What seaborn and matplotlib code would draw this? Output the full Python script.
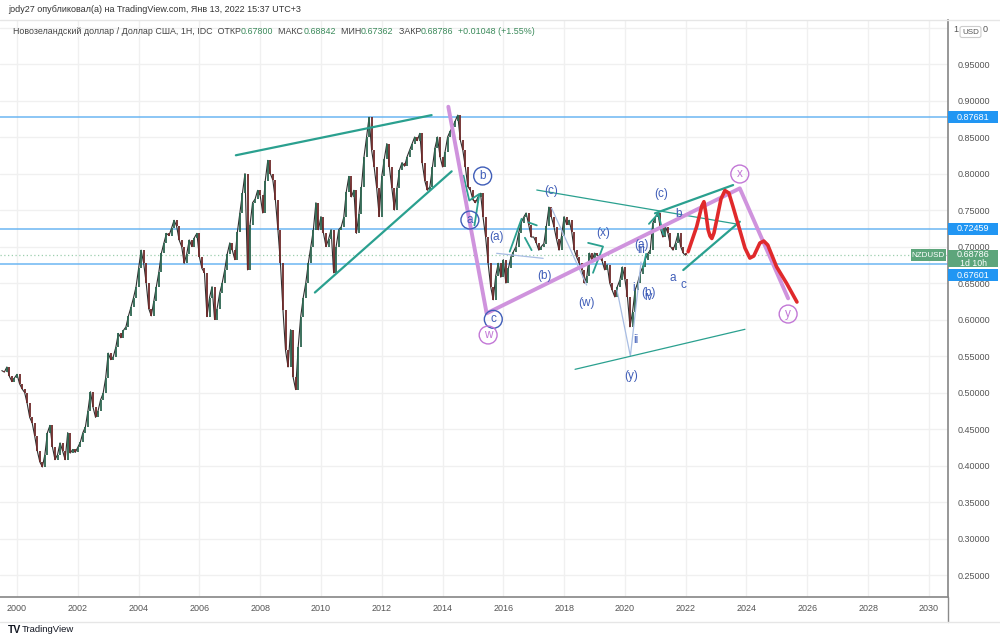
import numpy as np
import pandas as pd
import matplotlib
matplotlib.use("Agg")
import matplotlib.pyplot as plt
import seaborn as sns
from matplotlib.patches import Rectangle
from matplotlib.transforms import blended_transform_factory, ScaledTranslation

# ----------------------------
# Monthly closes NZDUSD, Jul 1999 .. Jan 2022
# ----------------------------
close_1999 = [0.530, 0.528, 0.535, 0.522, 0.515, 0.520]
close_2000 = [0.525, 0.512, 0.505, 0.500, 0.485, 0.466, 0.458, 0.440, 0.420, 0.405, 0.398, 0.415]
close_2001 = [0.445, 0.455, 0.425, 0.408, 0.415, 0.431, 0.420, 0.408, 0.445, 0.417, 0.422, 0.418]
close_2002 = [0.425, 0.432, 0.445, 0.453, 0.475, 0.501, 0.480, 0.466, 0.475, 0.490, 0.499, 0.520]
close_2003 = [0.554, 0.545, 0.549, 0.562, 0.581, 0.575, 0.585, 0.590, 0.605, 0.617, 0.630, 0.645]
close_2004 = [0.670, 0.695, 0.677, 0.650, 0.615, 0.605, 0.625, 0.645, 0.665, 0.691, 0.705, 0.718]
close_2005 = [0.715, 0.725, 0.736, 0.728, 0.709, 0.700, 0.677, 0.690, 0.709, 0.700, 0.712, 0.718]
close_2006 = [0.686, 0.670, 0.664, 0.604, 0.630, 0.645, 0.600, 0.615, 0.636, 0.650, 0.668, 0.690]
close_2007 = [0.705, 0.695, 0.682, 0.720, 0.746, 0.773, 0.800, 0.668, 0.730, 0.760, 0.765, 0.777]
close_2008 = [0.770, 0.746, 0.790, 0.818, 0.800, 0.791, 0.764, 0.723, 0.677, 0.613, 0.558, 0.535]
close_2009 = [0.586, 0.521, 0.504, 0.562, 0.604, 0.630, 0.650, 0.677, 0.700, 0.723, 0.760, 0.723]
close_2010 = [0.741, 0.718, 0.700, 0.710, 0.723, 0.664, 0.700, 0.723, 0.727, 0.740, 0.775, 0.796]
close_2011 = [0.768, 0.777, 0.718, 0.745, 0.782, 0.823, 0.850, 0.877, 0.832, 0.809, 0.780, 0.741]
close_2012 = [0.796, 0.820, 0.841, 0.809, 0.780, 0.750, 0.780, 0.805, 0.815, 0.810, 0.823, 0.832]
close_2013 = [0.841, 0.850, 0.845, 0.855, 0.814, 0.790, 0.777, 0.782, 0.809, 0.835, 0.850, 0.823]
close_2014 = [0.809, 0.830, 0.850, 0.858, 0.864, 0.872, 0.880, 0.846, 0.832, 0.809, 0.782, 0.777]
close_2015 = [0.764, 0.760, 0.768, 0.773, 0.740, 0.713, 0.677, 0.645, 0.627, 0.660, 0.677, 0.658]
close_2016 = [0.682, 0.650, 0.670, 0.686, 0.693, 0.700, 0.718, 0.732, 0.740, 0.746, 0.730, 0.713]
close_2017 = [0.713, 0.705, 0.695, 0.700, 0.704, 0.728, 0.754, 0.740, 0.727, 0.710, 0.695, 0.715]
close_2018 = [0.741, 0.730, 0.736, 0.720, 0.695, 0.685, 0.677, 0.668, 0.650, 0.660, 0.691, 0.680]
close_2019 = [0.691, 0.688, 0.686, 0.680, 0.668, 0.675, 0.650, 0.640, 0.631, 0.645, 0.654, 0.672]
close_2020 = [0.655, 0.631, 0.590, 0.610, 0.640, 0.650, 0.663, 0.672, 0.682, 0.690, 0.695, 0.732]
close_2021 = [0.740, 0.746, 0.725, 0.713, 0.727, 0.718, 0.700, 0.695, 0.705, 0.718, 0.700, 0.691]
close_2022 = [0.688]

closes = (close_1999 + close_2000 + close_2001 + close_2002 + close_2003 + close_2004
          + close_2005 + close_2006 + close_2007 + close_2008 + close_2009 + close_2010
          + close_2011 + close_2012 + close_2013 + close_2014 + close_2015 + close_2016
          + close_2017 + close_2018 + close_2019 + close_2020 + close_2021 + close_2022)
dates = pd.date_range("1999-07-01", periods=len(closes), freq="MS")
df = pd.DataFrame({"t": dates.year + (dates.month - 1) / 12.0, "close": closes})

# ----------------------------
# Drawings (year, price)
# ----------------------------
levels = [0.87681, 0.72459, 0.67601]
last_price = 0.68786

teal_top = [(2007.20, 0.825), (2013.64, 0.880)]
teal_low = [(2009.80, 0.637), (2014.30, 0.803)]
teal_chan_up = [(2020.99, 0.7455), (2023.56, 0.7842)]
teal_chan_low = [(2021.92, 0.6678), (2023.78, 0.734)]
teal_thin_c = [(2017.10, 0.7774), (2023.68, 0.7308)]
teal_thin_bottom = [(2018.36, 0.5318), (2023.95, 0.5866)]
teal_zigzags = [
    [(2014.69, 0.797), (2014.88, 0.763), (2015.21, 0.772), (2015.05, 0.729)],
    [(2016.21, 0.693), (2016.60, 0.738)],
    [(2016.83, 0.733), (2017.10, 0.729)],
    [(2016.71, 0.712), (2016.93, 0.695)],
    [(2018.79, 0.705), (2019.28, 0.700), (2018.95, 0.664)],
    [(2020.79, 0.731), (2021.10, 0.745), (2021.27, 0.716)],
    [(2020.60, 0.671), (2020.70, 0.690)],
]
pale_lines = [
    [(2017.59, 0.7523), (2018.74, 0.6473)],
    [(2019.74, 0.6404), (2020.18, 0.5500), (2020.53, 0.6788)],
    [(2015.78, 0.6907), (2017.31, 0.6838)],
]
violet_path = [(2014.19, 0.8915), (2015.45, 0.6085), (2023.78, 0.7797), (2025.37, 0.629)]
red_path = [(2022.08, 0.6929), (2022.36, 0.7271), (2022.53, 0.7555), (2022.60, 0.7614),
            (2022.66, 0.7466), (2022.74, 0.7226), (2022.80, 0.7144), (2022.86, 0.7110),
            (2022.93, 0.7185), (2023.02, 0.7363), (2023.16, 0.7650), (2023.29, 0.7767),
            (2023.42, 0.7733), (2023.55, 0.7555), (2023.78, 0.7226), (2023.95, 0.6980),
            (2024.11, 0.6842), (2024.24, 0.6870), (2024.44, 0.7048), (2024.57, 0.7075),
            (2024.70, 0.7021), (2024.99, 0.6723), (2025.32, 0.6496), (2025.66, 0.6240)]

blue_labels = [("(a)", 2015.76, 0.713), ("(b)", 2017.37, 0.660), ("(c)", 2017.57, 0.776),
               ("(w)", 2018.75, 0.6226), ("(x)", 2019.28, 0.7185), ("(y)", 2020.20, 0.5226),
               ("(c)", 2021.18, 0.7719), ("b", 2021.78, 0.7445), ("a", 2021.58, 0.6568),
               ("c", 2021.94, 0.6473), ("i", 2020.30, 0.6432), ("ii", 2020.36, 0.572),
               ("(a)", 2020.55, 0.702), ("iii", 2020.55, 0.6952), ("(b)", 2020.77, 0.6367),
               ("iv", 2020.77, 0.6312)]
blue_circled = [("b", 2015.32, 0.7966), ("a", 2014.90, 0.7363), ("c", 2015.67, 0.6003)]
violet_circled = [("w", 2015.50, 0.5788), ("x", 2023.78, 0.7993), ("y", 2025.37, 0.6075)]

year_ticks = list(range(2000, 2031, 2))
price_ticks = [round(0.25 + 0.05 * i, 2) for i in range(15)]   # 0.25 .. 0.95
grid_prices = price_ticks + [1.0]

# ----------------------------
# Figure
# ----------------------------
sns.set_theme(style="white")
plt.rcParams["font.family"] = ["Liberation Sans", "DejaVu Sans"]

W, H = 1000, 643
fig = plt.figure(figsize=(10, 6.43), dpi=100)
ax = fig.add_axes([0, (H - 597) / H, 948 / W, (597 - 20) / H])
ax.set_xlim(1999.44, 2030.63)
ax.set_ylim(0.2199, 1.0103)

grid_c = "#f0f0f0"
for yr in year_ticks:
    ax.axvline(yr, color=grid_c, lw=1, zorder=0)
for p in grid_prices:
    ax.axhline(p, color=grid_c, lw=1, zorder=0)

# price: thin line + monthly bodies
sns.lineplot(data=df, x="t", y="close", ax=ax, color="#2e2e2e", lw=0.8, zorder=3)
prev = df["close"].shift(1).fillna(df["close"].iloc[0])
up = df["close"] >= prev
ax.vlines(df["t"][up], prev[up], df["close"][up], color="#2d6650", lw=1.3, zorder=3)
ax.vlines(df["t"][~up], prev[~up], df["close"][~up], color="#6e2a2a", lw=1.3, zorder=3)

# horizontal levels
for lv in levels:
    ax.axhline(lv, color="#6cb6f2", lw=1.1, zorder=2)
ax.axhline(last_price, color="#9ccfae", lw=0.9, ls=(0, (1, 2)), zorder=2)


def draw(path, **kw):
    xs, ys = zip(*path)
    ax.plot(xs, ys, solid_capstyle="round", **kw)


teal = "#2aa08f"
for path in (teal_top, teal_low, teal_chan_up, teal_chan_low):
    draw(path, color=teal, lw=1.6, zorder=5)
for path in (teal_thin_c, teal_thin_bottom):
    draw(path, color=teal, lw=0.9, zorder=5)
for path in teal_zigzags:
    draw(path, color=teal, lw=1.3, zorder=5)
for path in pale_lines:
    draw(path, color="#a8bde3", lw=0.9, zorder=4)
draw(violet_path, color="#cf93dd", lw=2.8, zorder=6)
draw(red_path, color="#e0292b", lw=2.6, zorder=7)

blue = "#3f5db8"
violet = "#c277d6"
for txt, x, y in blue_labels:
    ax.text(x, y, txt, color=blue, fontsize=8.5, ha="center", va="center", zorder=8)
for txt, x, y in blue_circled:
    ax.text(x, y, txt, color=blue, fontsize=8.5, ha="center", va="center", zorder=8,
            bbox=dict(boxstyle="circle,pad=0.25", fc="none", ec=blue, lw=1))
for txt, x, y in violet_circled:
    ax.text(x, y, txt, color=violet, fontsize=8.5, ha="center", va="center", zorder=8,
            bbox=dict(boxstyle="circle,pad=0.25", fc="none", ec=violet, lw=1))

# axes styling
for s in ("top", "left"):
    ax.spines[s].set_visible(False)
ax.spines["right"].set_color("#8a8a8a")
ax.spines["bottom"].set_color("#8a8a8a")
ax.yaxis.tick_right()
ax.set_yticks(price_ticks)
ax.set_yticklabels([f"{p:.5f}" for p in price_ticks])
ax.set_xticks(year_ticks)
ax.set_xticklabels([str(y) for y in year_ticks])
ax.tick_params(axis="y", length=0, pad=7, labelsize=6.5, labelcolor="#555555")
ax.tick_params(axis="x", length=0, pad=5, labelsize=6.5, labelcolor="#555555")
ax.set_xlabel("")
ax.set_ylabel("")

# right-axis price tags
tr = blended_transform_factory(ax.transAxes, ax.transData)
hh = 0.0082
tag_shift = [0, 0, -11]
for lv, sh in zip(levels, tag_shift):
    off = ScaledTranslation(0, sh / 100, fig.dpi_scale_trans)
    ax.add_patch(Rectangle((1.0, lv - hh), 50 / 948, 2 * hh, transform=tr + off,
                           fc="#2196f3", ec="none", clip_on=False, zorder=10))
    ax.text(1.0 + 25 / 948, lv, f"{lv:.5f}", transform=tr + off, color="white",
            fontsize=6.5, ha="center", va="center", clip_on=False, zorder=11)

green = "#5da57b"
ax.add_patch(Rectangle((1.0, last_price - 0.0165), 50 / 948, 0.0245, transform=tr,
                       fc=green, ec="none", clip_on=False, zorder=10))
ax.text(1.0 + 25 / 948, last_price + 0.0015, f"{last_price:.5f}", transform=tr,
        color="white", fontsize=6.5, ha="center", va="center", zorder=11, clip_on=False)
ax.text(1.0 + 25 / 948, last_price - 0.0115, "1d 10h", transform=tr,
        color="white", fontsize=6.3, ha="center", va="center", zorder=11, clip_on=False)
ax.add_patch(Rectangle((911 / 948, last_price - 0.0082), 35 / 948, 0.0164, transform=tr,
                       fc=green, ec="none", clip_on=False, zorder=10))
ax.text(928.5 / 948, last_price, "NZDUSD", transform=tr, color="white",
        fontsize=5.8, ha="center", va="center", zorder=11)

# top of price scale: "1 [USD] 0"
fig.text(956 / W, 1 - 30 / H, "1", fontsize=6.5, color="#555555", ha="center", va="center")
fig.text(985 / W, 1 - 30 / H, "0", fontsize=6.5, color="#555555", ha="center", va="center")
fig.text(970.5 / W, 1 - 32 / H, "USD", fontsize=5.8, color="#555555", ha="center", va="center",
         bbox=dict(boxstyle="round,pad=0.25", fc="white", ec="#cccccc", lw=0.8), zorder=12)

# frame lines of the time/price scales
fig.add_artist(plt.Line2D([948 / W, 948 / W], [1 - 597 / H, 1 - 622 / H], color="#8a8a8a", lw=1))
fig.add_artist(plt.Line2D([0, 1], [1 - 622 / H, 1 - 622 / H], color="#e6e6e6", lw=1))
fig.add_artist(plt.Line2D([0, 1], [1 - 20 / H, 1 - 20 / H], color="#e6e6e6", lw=1))

# header
fig.text(8 / W, 1 - 9 / H, "jody27 опубликовал(а) на TradingView.com, Янв 13, 2022 15:37 UTC+3",
         fontsize=6.5, color="#333333", va="center")
parts = [("Новозеландский доллар / Доллар США, 1H, IDC  ОТКР", "#444444"),
         ("0.67800", "#3a8a5a"), ("  МАКС", "#444444"), ("0.68842", "#3a8a5a"),
         ("  МИН", "#444444"), ("0.67362", "#3a8a5a"), ("  ЗАКР", "#444444"),
         ("0.68786", "#3a8a5a"), ("  +0.01048 (+1.55%)", "#3a8a5a")]

# sequential placement of the legend pieces
fig.canvas.draw()
renderer = fig.canvas.get_renderer()
x_cur = 13
for txt, col in parts:
    t = fig.text(x_cur / W, 1 - 31 / H, txt, fontsize=6.4, color=col, va="center")
    x_cur += t.get_window_extent(renderer=renderer).width

# footer logo
fig.text(8 / W, 1 - 630 / H, "TV", fontsize=7.5, fontweight="bold", color="#131722", va="center")
fig.text(22 / W, 1 - 630 / H, "TradingView", fontsize=6.8, color="#131722", va="center")

fig.savefig("out.png", dpi=100)
